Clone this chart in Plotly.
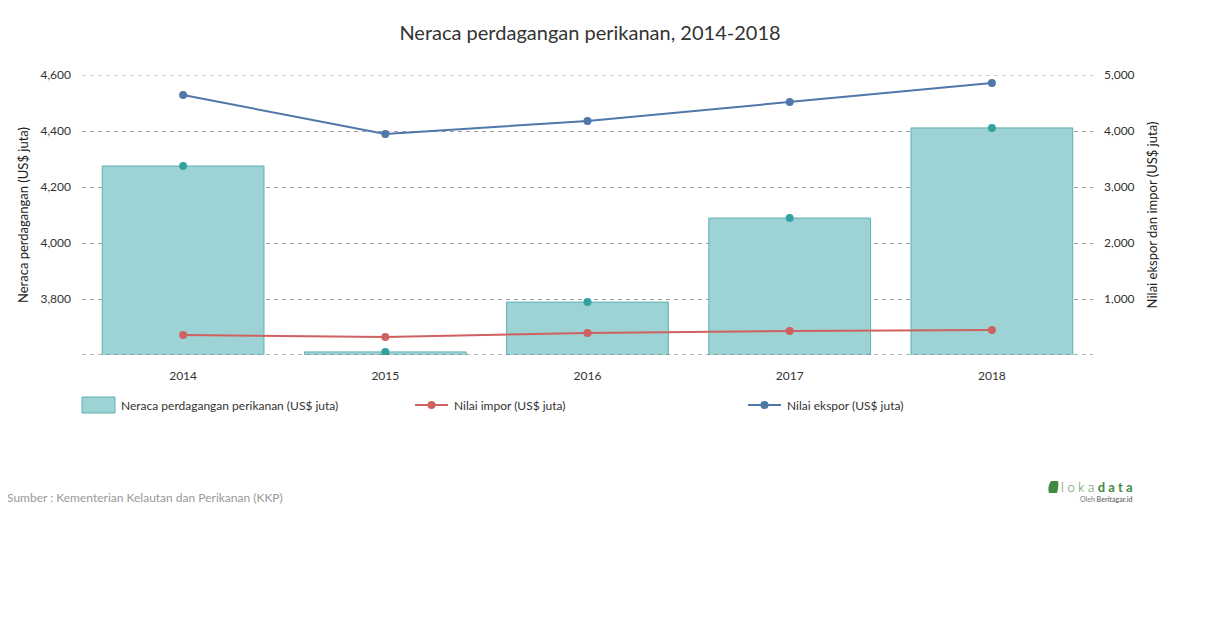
import plotly.graph_objects as go

years = ["2014", "2015", "2016", "2017", "2018"]
neraca = [4275, 3611, 3789, 4089, 4411]
impor = [357, 321, 393, 429, 446]
ekspor = [4643, 3946, 4179, 4518, 4857]

FONT = "Lato, 'Open Sans', sans-serif"
TEAL_FILL = "#9dd3d4"
TEAL_LINE = "#5eb1b1"
TEAL_DOT = "#35a2a2"
RED = "#cf6160"
BLUE = "#4f77a8"
GRID = "#a0a0a0"

# plot-area geometry (reference pixels) for positioning decorations
PX0, PX1, PY0, PY1 = 82, 1093, 75, 355


def px(x):
    return (x - PX0) / (PX1 - PX0)


def py(y):
    return (PY1 - y) / (PY1 - PY0)


fig = go.Figure()
fig.add_trace(go.Bar(
    x=years, y=neraca, name="Neraca perdagangan perikanan (US$ juta)",
    marker=dict(color=TEAL_FILL, line=dict(color=TEAL_LINE, width=1)),
    yaxis="y",
))
fig.add_trace(go.Scatter(
    x=years, y=neraca, mode="markers", showlegend=False,
    marker=dict(color=TEAL_DOT, size=8), yaxis="y",
))
fig.add_trace(go.Scatter(
    x=years, y=impor, mode="lines+markers", name="Nilai impor (US$ juta)",
    line=dict(color=RED, width=2), marker=dict(color=RED, size=8), yaxis="y2",
))
fig.add_trace(go.Scatter(
    x=years, y=ekspor, mode="lines+markers", name="Nilai ekspor (US$ juta)",
    line=dict(color=BLUE, width=2), marker=dict(color=BLUE, size=8), yaxis="y2",
))

fig.update_layout(
    width=1210, height=628,
    paper_bgcolor="white", plot_bgcolor="white",
    margin=dict(l=74, r=125, t=67, b=281, autoexpand=False),
    font=dict(family=FONT, size=12, color="#333"),
    title=dict(text="Neraca perdagangan perikanan, 2014-2018", x=582 / 1210, xanchor="center",
               y=1 - 25 / 628, yanchor="middle", font=dict(size=20, color="#333", family=FONT)),
    bargap=0.2,
    showlegend=False,
    xaxis=dict(showgrid=False, showline=False, ticks="", ticklabelstandoff=12,
               tickfont=dict(size=12, color="#333")),
    yaxis=dict(range=[3600, 4600], tickvals=[3600, 3800, 4000, 4200, 4400, 4600],
               ticktext=["", "3,800", "4,000", "4,200", "4,400", "4,600"],
               showgrid=True, gridcolor=GRID, griddash="4px,4px", gridwidth=1,
               zeroline=False, showline=False, ticks="", ticklabelstandoff=10, automargin=False,
               title=dict(text="Neraca perdagangan (US$ juta)", font=dict(size=13, color="#222"), standoff=8),
               tickfont=dict(size=12, color="#333")),
    yaxis2=dict(range=[0, 5000], tickvals=[0, 1000, 2000, 3000, 4000, 5000],
                ticktext=["", "1,000", "2,000", "3,000", "4,000", "5,000"],
                overlaying="y", side="right", showgrid=False, zeroline=False, showline=False, ticks="",
                ticklabelstandoff=10, automargin=False,
                title=dict(text="Nilai ekspor dan impor (US$ juta)", font=dict(size=13, color="#222"), standoff=14),
                tickfont=dict(size=12, color="#333")),
)

# edge gridlines (plotly hides gridlines lying on the plot edges)
fig.add_shape(type="line", xref="paper", yref="y", x0=0, x1=1, y0=4600, y1=4600,
              line=dict(color=GRID, width=1, dash="4px,4px"), layer="below")
fig.add_shape(type="line", xref="paper", yref="y", x0=0, x1=1, y0=3600, y1=3600,
              line=dict(color="#666", width=1, dash="4px,4px"), layer="above")

# custom legend
LY = 405
fig.add_shape(type="rect", xref="paper", yref="paper", x0=px(82), x1=px(115), y0=py(413), y1=py(397),
              fillcolor=TEAL_FILL, line=dict(color=TEAL_LINE, width=1))
fig.add_annotation(text="Neraca perdagangan perikanan (US$ juta)", xref="paper", yref="paper",
                   x=px(119), y=py(LY), xanchor="left", yanchor="middle", showarrow=False,
                   font=dict(size=12, color="#333"))
for x0, col, label in [(415, RED, "Nilai impor (US$ juta)"), (748, BLUE, "Nilai ekspor (US$ juta)")]:
    fig.add_shape(type="line", xref="paper", yref="paper", x0=px(x0), x1=px(x0 + 33), y0=py(LY), y1=py(LY),
                  line=dict(color=col, width=2))
    fig.add_shape(type="circle", xref="paper", yref="paper", x0=px(x0 + 12.5), x1=px(x0 + 20.5),
                  y0=py(LY + 4), y1=py(LY - 4), fillcolor=col, line=dict(color=col, width=0))
    fig.add_annotation(text=label, xref="paper", yref="paper",
                       x=px(x0 + 37), y=py(LY), xanchor="left", yanchor="middle", showarrow=False,
                       font=dict(size=12, color="#333"))

fig.add_annotation(text="Sumber : Kementerian Kelautan dan Perikanan (KKP)", xref="paper", yref="paper",
                   x=px(5), y=py(497), xanchor="left", yanchor="middle",
                   showarrow=False, font=dict(size=12, color="#999", family=FONT))
fig.add_annotation(text="<span style='font-weight:300'>l o k a </span><b>d a t a</b>", xref="paper", yref="paper",
                   x=px(1135), y=py(487), xanchor="right", yanchor="middle",
                   showarrow=False, font=dict(size=13, color="#3f8a45", family=FONT))
fig.add_annotation(text="Oleh <b>Beritagar.id</b>", xref="paper", yref="paper",
                   x=px(1134), y=py(499), xanchor="right", yanchor="middle",
                   showarrow=False, font=dict(size=7, color="#777", family=FONT))
fig.add_shape(type="path", xref="paper", yref="paper",
              path=(f"M {px(1049)},{py(493)} L {px(1057)},{py(493)} Q {px(1059)},{py(486)} {px(1058)},{py(481)} "
                    f"L {px(1051)},{py(481)} Q {px(1047)},{py(487)} {px(1049)},{py(493)} Z"),
              fillcolor="#3f8a45", line=dict(width=0))

fig.write_html("out.html")
